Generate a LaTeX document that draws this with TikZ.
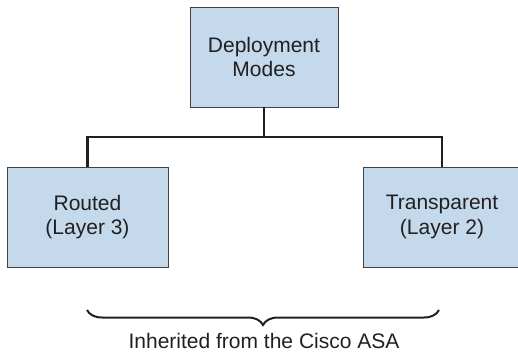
\documentclass[tikz,border=0pt]{standalone}
\usepackage{fontspec}
\setmainfont{Liberation Sans}
\usetikzlibrary{decorations.pathreplacing}

\definecolor{boxblue}{HTML}{C4D9EC}
\definecolor{inkgray}{HTML}{231F20}

\begin{document}
\begin{tikzpicture}[x=1pt,y=-1pt,
    font=\fontsize{21}{24.5}\selectfont,text=inkgray,
    modebox/.style={draw=inkgray!85,line width=0.9pt,fill=boxblue,
        align=center,minimum height=100pt,inner sep=0pt},
    conn/.style={draw=inkgray,line width=2.4pt}]
    \clip (0,0) rectangle (518,356);

    \node[modebox,minimum width=148pt] (modes) at (264,57) {Deployment\\Modes};
    \node[modebox,minimum width=161pt] (routed) at (87.5,217) {Routed\\(Layer 3)};
    \node[modebox,minimum width=158pt] (transp) at (442,217) {Transparent\\(Layer 2)};

    \coordinate (bar) at (264,137);
    \draw[conn] (modes.south) -- (bar);
    \draw[conn,line join=miter] (routed.north) |- (bar) -| (transp.north);

    \coordinate (bl) at (87,310);
    \coordinate (br) at (439,310);
    \draw[inkgray,line width=2pt,
        decorate,decoration={brace,mirror,amplitude=15pt}] (bl) -- (br);
    \node (inherited) at (264,341) {Inherited from the Cisco ASA};
\end{tikzpicture}
\end{document}
